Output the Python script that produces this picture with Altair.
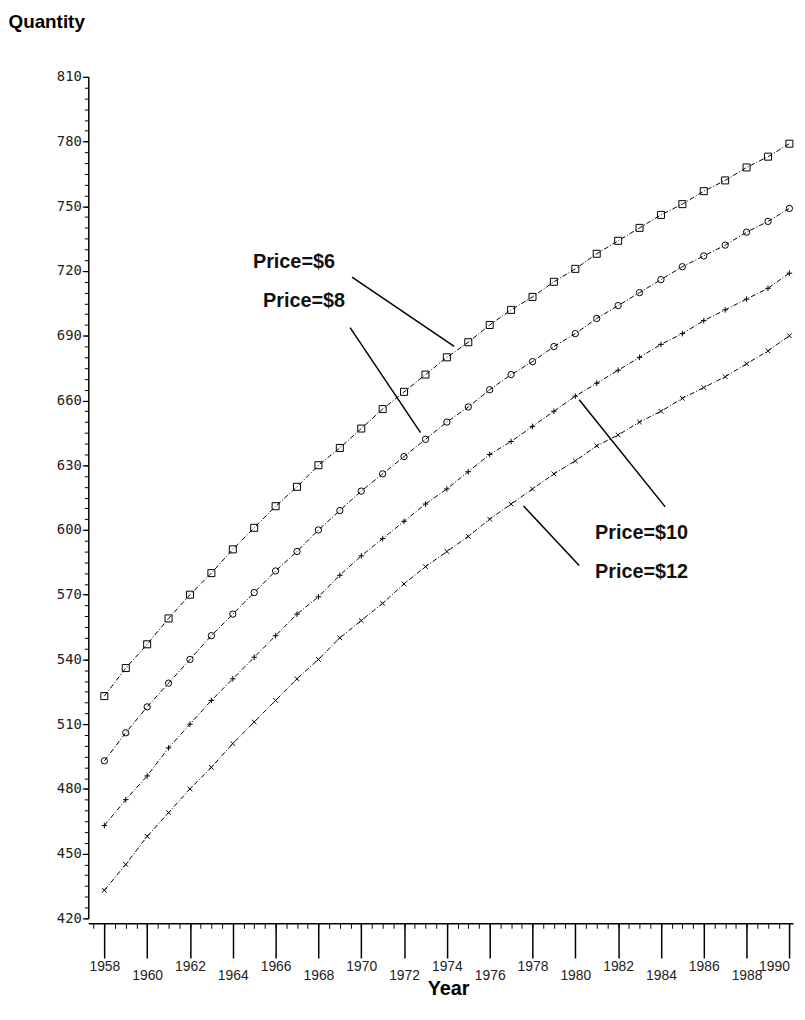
import altair as alt
import pandas as pd

# ---- data ----
years = list(range(1958, 1991))
series = ["Price=$6", "Price=$8", "Price=$10", "Price=$12"]
q_p6 = [523, 536, 547, 559, 570, 580, 591, 601, 611, 620, 630, 638, 647, 656, 664, 672, 680,
        687, 695, 702, 708, 715, 721, 728, 734, 740, 746, 751, 757, 762, 768, 773, 779]
q_p8 = [493, 506, 518, 529, 540, 551, 561, 571, 581, 590, 600, 609, 618, 626, 634, 642, 650,
        657, 665, 672, 678, 685, 691, 698, 704, 710, 716, 722, 727, 732, 738, 743, 749]
q_p10 = [463, 475, 486, 499, 510, 521, 531, 541, 551, 561, 569, 579, 588, 596, 604, 612, 619,
         627, 635, 641, 648, 655, 662, 668, 674, 680, 686, 691, 697, 702, 707, 712, 719]
q_p12 = [433, 445, 458, 469, 480, 490, 501, 511, 521, 531, 540, 550, 558, 566, 575, 583, 590,
         597, 605, 612, 619, 626, 632, 639, 644, 650, 655, 661, 666, 671, 677, 683, 690]

y_ticks = list(range(420, 811, 30))
x_ticks_a = list(range(1958, 1991, 4))   # 1958, 1962, ...
x_ticks_b = list(range(1960, 1991, 4))   # 1960, 1964, ...

# annotation labels (year, quantity units)
ann_label = ["Price=$6", "Price=$8", "Price=$10", "Price=$12"]
ann_x = [1964.94, 1965.41, 1980.92, 1980.92]
ann_y = [724.1, 706.2, 598.7, 580.3]
lead_x1 = [1969.57, 1969.48, 1980.18, 1977.58]
lead_y1 = [717.2, 693.8, 660.3, 611.1]
lead_x2 = [1974.34, 1972.77, 1984.20, 1980.18]
lead_y2 = [685.1, 645.1, 610.7, 583.5]

# ---- tables ----
rows = []
for name, vals in zip(series, [q_p6, q_p8, q_p10, q_p12]):
    for yr, v in zip(years, vals):
        rows.append({"year": yr, "qty": v, "series": name})
df = pd.DataFrame(rows)
ann = pd.DataFrame({"label": ann_label, "x": ann_x, "y": ann_y})
leads = pd.DataFrame({"x1": lead_x1, "y1": lead_y1, "x2": lead_x2, "y2": lead_y2})

xs = alt.Scale(domain=[1957.25, 1990.17], nice=False, zero=False)
ys = alt.Scale(domain=[420, 810], nice=False, zero=False)

TXT = "Liberation Sans"
LBL_Y = "DejaVu Sans Mono"
LBL_X = "Liberation Sans Narrow, Liberation Sans"

plus_path = "M-1,0L1,0M0,-1L0,1"
x_path = "M-1,-1L1,1M-1,1L1,-1"

axis_common = dict(grid=False, tickColor="black", domainColor="black", labelColor="#222")

lines = alt.Chart(df).mark_line(color="black", strokeWidth=1, strokeDash=[5, 2, 1, 2]).encode(
    x=alt.X("year:Q", scale=xs, axis=alt.Axis(
        orient="bottom", values=x_ticks_a, tickSize=35, tickWidth=1.5, domainWidth=1.5,
        offset=5, labelPadding=2, labelFont=LBL_X, labelFontSize=14, format="d",
        labelBaseline="top", labelOverlap=False, labelFlush=8,
        title="Year", titleFont=TXT, titleFontSize=20, titleFontWeight="bold",
        titleX=363, titleY=66, titleAlign="center", titleBaseline="middle", **axis_common)),
    y=alt.Y("qty:Q", scale=ys, axis=alt.Axis(
        orient="left", values=y_ticks, tickSize=6, tickWidth=1.2, domainWidth=1.5,
        labelPadding=1, labelFont=LBL_Y, labelFontSize=14, labelOverlap=False,
        title="Quantity", titleFont=TXT, titleFontSize=19, titleFontWeight="bold",
        titleAngle=0, titleAlign="left", titleBaseline="middle", titleX=-81, titleY=-56,
        **axis_common)),
    detail="series:N",
)

points = alt.Chart(df).mark_point(filled=False, color="black", strokeWidth=1, opacity=1).encode(
    x=alt.X("year:Q", scale=xs, axis=alt.Axis(
        orient="bottom", values=x_ticks_b, tickSize=35, tickWidth=1.5, domain=False,
        offset=5, labelPadding=11, labelFont=LBL_X, labelFontSize=14, format="d",
        labelBaseline="top", labelOverlap=False, title=None, **axis_common)),
    y=alt.Y("qty:Q", scale=ys, axis=alt.Axis(
        orient="left", values=list(range(420, 811, 5)), tickSize=4, tickWidth=1,
        domain=False, labels=False, title=None, **axis_common)),
    shape=alt.Shape("series:N", scale=alt.Scale(domain=series,
                    range=["square", "circle", plus_path, x_path]), legend=None),
    size=alt.Size("series:N", scale=alt.Scale(domain=series, range=[50, 22, 64, 56]), legend=None),
)

texts = alt.Chart(ann).mark_text(align="left", baseline="middle", font=TXT, fontSize=20,
                                 fontWeight="bold", color="#111").encode(
    x=alt.X("x:Q", scale=xs, axis=alt.Axis(
        orient="bottom", values=[1957.5 + 0.5 * i for i in range(66)], tickSize=5, tickWidth=1,
        domain=False, labels=False, offset=5, title=None, **axis_common)),
    y=alt.Y("y:Q", scale=ys, axis=None),
    text="label:N",
)

rules = alt.Chart(leads).mark_rule(color="black", strokeWidth=1.5).encode(
    x=alt.X("x1:Q", scale=xs, axis=None),
    y=alt.Y("y1:Q", scale=ys, axis=None),
    x2="x2:Q",
    y2="y2:Q",
)

chart = alt.layer(lines, points, texts, rules).resolve_axis(
    x="independent", y="independent"
).properties(
    width=711, height=849,
    padding={"left": 81, "top": 65, "right": 4, "bottom": 85},
    autosize=alt.AutoSizeParams(type="none"),
    background="white",
).configure_view(stroke=None)

chart.save("out.html", embed_options={"renderer": "svg", "actions": False})
